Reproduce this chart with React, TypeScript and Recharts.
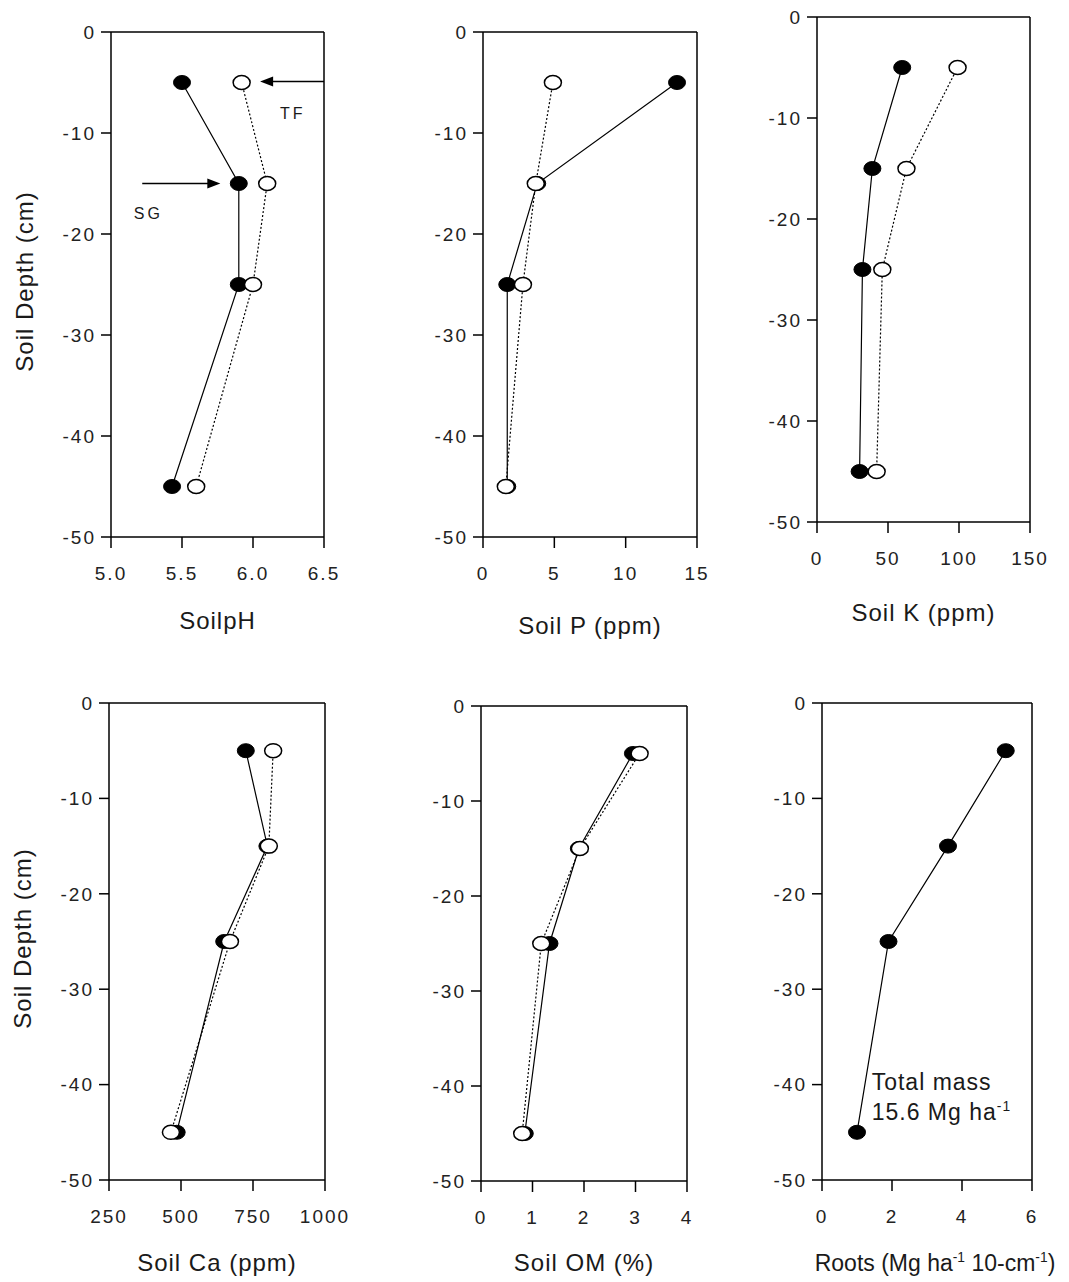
import {
  ScatterChart,
  Scatter,
  XAxis,
  YAxis,
  ReferenceLine,
  ReferenceDot,
} from "recharts";

// depths of the soil layers (cm, negative = below surface)
const DEPTHS = [-5, -15, -25, -45];
const DEPTH_TICKS = [0, -10, -20, -30, -40, -50];

// SG = filled circles, TF = open circles
const PH_SG = [5.5, 5.9, 5.9, 5.43];
const PH_TF = [5.92, 6.1, 6.0, 5.6];
const PH_TICKS = [5.0, 5.5, 6.0, 6.5];

const P_SG = [13.6, 3.8, 1.7, 1.7];
const P_TF = [4.9, 3.7, 2.8, 1.6];
const P_TICKS = [0, 5, 10, 15];

const K_SG = [60, 39, 32, 30];
const K_TF = [99, 63, 46, 42];
const K_TICKS = [0, 50, 100, 150];

const CA_SG = [725, 800, 650, 485];
const CA_TF = [820, 805, 670, 465];
const CA_TICKS = [250, 500, 750, 1000];

const OM_SG = [2.95, 1.9, 1.33, 0.85];
const OM_TF = [3.08, 1.92, 1.17, 0.8];
const OM_TICKS = [0, 1, 2, 3, 4];

const ROOTS = [5.25, 3.6, 1.9, 1.0];
const ROOT_TICKS = [0, 2, 4, 6];

const FONT = "'Liberation Sans', Arial, sans-serif";
const YW = 100; // y axis area width
const PAD = 20;
const RIGHT = 40;
const TICK_STYLE = { fontSize: 19, fill: "#222", fontFamily: FONT, letterSpacing: 2 };

const toPoints = (xs: number[]) => xs.map((x, i) => ({ x, y: DEPTHS[i] }));

const FilledDot = (p: any) => (
  <ellipse cx={p.cx} cy={p.cy} rx={8.5} ry={7} fill="#000" stroke="#000" />
);
const OpenDot = (p: any) => (
  <ellipse cx={p.cx} cy={p.cy} rx={8.5} ry={7} fill="#fff" stroke="#000" strokeWidth={1.5} />
);

type Part = { t: string; sup?: boolean };

// one line of text, with optional superscript pieces
const Line = ({ x, y, parts, size, spacing, anchor }: any) => (
  <text
    x={x}
    y={y}
    textAnchor={anchor || "start"}
    fontSize={size}
    fontFamily={FONT}
    fill="#1a1a1a"
    letterSpacing={spacing}
  >
    {parts.map((p: Part, i: number) =>
      p.sup ? (
        <tspan key={i} fontSize={size * 0.6} dy={-size * 0.4}>
          {p.t}
        </tspan>
      ) : (
        <tspan key={i} dy={i > 0 && parts[i - 1].sup ? size * 0.4 : 0}>
          {p.t}
        </tspan>
      )
    )}
  </text>
);

const XTitle =
  (parts: Part[], offset: number, size: number, spacing: number, shift: number) => (props: any) => {
    const vb = props.viewBox;
    return (
      <Line
        x={vb.x + vb.width / 2 + shift}
        y={vb.y + offset}
        parts={parts}
        size={size}
        spacing={spacing}
        anchor="middle"
      />
    );
  };

const YTitle = (props: any) => {
  const vb = props.viewBox;
  const x = vb.x + 22;
  const y = vb.y + vb.height / 2 - 3;
  return (
    <text
      x={x}
      y={y}
      transform={`rotate(-90 ${x} ${y})`}
      textAnchor="middle"
      fontSize={24}
      fontFamily={FONT}
      fill="#1a1a1a"
      letterSpacing={1}
    >
      Soil Depth (cm)
    </text>
  );
};

const ArrowHead = (dir: number) => (p: any) => (
  <polygon
    points={`${p.cx},${p.cy} ${p.cx + dir * 13},${p.cy - 5} ${p.cx + dir * 13},${p.cy + 5}`}
    fill="#000"
  />
);

const Note = (lines: Part[][], size: number, spacing: number) => (p: any) => (
  <g>
    {lines.map((line, li) => (
      <Line key={li} x={p.cx} y={p.cy + li * size * 1.3} parts={line} size={size} spacing={spacing} />
    ))}
  </g>
);

interface PanelProps {
  left: number;
  top: number;
  width: number;
  height: number;
  xDomain: [number, number];
  xTicks: number[];
  digits: number;
  sg: number[];
  tf?: number[];
  title: Part[];
  titleOffset: number;
  titleSize?: number;
  titleSpacing?: number;
  titleShift?: number;
  yTitle?: boolean;
  children?: any;
}

const Panel = ({
  left,
  top,
  width,
  height,
  xDomain,
  xTicks,
  digits,
  sg,
  tf,
  title,
  titleOffset,
  titleSize = 24,
  titleSpacing = 1,
  titleShift = 0,
  yTitle,
  children,
}: PanelProps) => (
  <div style={{ position: "absolute", left: left - YW, top: top - PAD }}>
    <ScatterChart
      width={width + YW + RIGHT}
      height={height + PAD + 110}
      margin={{ top: PAD, right: RIGHT, left: 0, bottom: 0 }}
    >
      <XAxis
        type="number"
        dataKey="x"
        domain={xDomain}
        ticks={xTicks}
        allowDataOverflow
        tickFormatter={(v: number) => v.toFixed(digits)}
        tickSize={11}
        tickMargin={19}
        height={110}
        stroke="#000"
        strokeWidth={1.5}
        tick={TICK_STYLE}
        label={{ content: XTitle(title, titleOffset, titleSize, titleSpacing, titleShift) }}
      />
      <YAxis
        type="number"
        dataKey="y"
        domain={[-50, 0]}
        ticks={DEPTH_TICKS}
        allowDataOverflow
        tickSize={10}
        tickMargin={5}
        width={YW}
        stroke="#000"
        strokeWidth={1.5}
        tick={TICK_STYLE}
        label={yTitle ? { content: YTitle } : undefined}
      />
      <ReferenceLine y={0} stroke="#000" strokeWidth={1.5} />
      <ReferenceLine x={xDomain[1]} stroke="#000" strokeWidth={1.5} />
      <Scatter
        data={toPoints(sg)}
        line={{ stroke: "#000", strokeWidth: 1.2 }}
        shape={FilledDot}
        isAnimationActive={false}
      />
      {tf && (
        <Scatter
          data={toPoints(tf)}
          line={{ stroke: "#000", strokeWidth: 1.2, strokeDasharray: "2 2" }}
          shape={OpenDot}
          isAnimationActive={false}
        />
      )}
      {children}
    </ScatterChart>
  </div>
);

export default function App() {
  return (
    <div
      style={{
        position: "relative",
        width: 1069,
        height: 1282,
        background: "#fff",
        fontFamily: FONT,
        overflow: "hidden",
      }}
    >
      <style>{`body{margin:0}`}</style>
      <Panel
        left={111}
        top={32}
        width={213}
        height={505}
        xDomain={[5, 6.5]}
        xTicks={PH_TICKS}
        digits={1}
        sg={PH_SG}
        tf={PH_TF}
        title={[{ t: "SoilpH" }]}
        titleOffset={92}
        yTitle
      >
        <ReferenceLine
          segment={[
            { x: 6.5, y: -4.9 },
            { x: 6.12, y: -4.9 },
          ]}
          stroke="#000"
          strokeWidth={1.3}
        />
        <ReferenceDot x={6.05} y={-4.9} r={0} shape={ArrowHead(1)} />
        <ReferenceLine
          segment={[
            { x: 5.22, y: -15 },
            { x: 5.7, y: -15 },
          ]}
          stroke="#000"
          strokeWidth={1.3}
        />
        <ReferenceDot x={5.77} y={-15} r={0} shape={ArrowHead(-1)} />
        <ReferenceDot x={6.19} y={-8.6} r={0} shape={Note([[{ t: "TF" }]], 16, 3)} />
        <ReferenceDot x={5.16} y={-18.5} r={0} shape={Note([[{ t: "SG" }]], 16, 3)} />
      </Panel>
      <Panel
        left={483}
        top={32}
        width={214}
        height={505}
        xDomain={[0, 15]}
        xTicks={P_TICKS}
        digits={0}
        sg={P_SG}
        tf={P_TF}
        title={[{ t: "Soil P (ppm)" }]}
        titleOffset={97}
      />
      <Panel
        left={817}
        top={17}
        width={213}
        height={505}
        xDomain={[0, 150]}
        xTicks={K_TICKS}
        digits={0}
        sg={K_SG}
        tf={K_TF}
        title={[{ t: "Soil K (ppm)" }]}
        titleOffset={99}
      />
      <Panel
        left={109}
        top={703}
        width={216}
        height={477}
        xDomain={[250, 1000]}
        xTicks={CA_TICKS}
        digits={0}
        sg={CA_SG}
        tf={CA_TF}
        title={[{ t: "Soil Ca (ppm)" }]}
        titleOffset={91}
        yTitle
      />
      <Panel
        left={481}
        top={706}
        width={206}
        height={475}
        xDomain={[0, 4]}
        xTicks={OM_TICKS}
        digits={0}
        sg={OM_SG}
        tf={OM_TF}
        title={[{ t: "Soil OM (%)" }]}
        titleOffset={90}
      />
      <Panel
        left={822}
        top={703}
        width={210}
        height={477}
        xDomain={[0, 6]}
        xTicks={ROOT_TICKS}
        digits={0}
        sg={ROOTS}
        title={[
          { t: "Roots (Mg ha" },
          { t: "-1", sup: true },
          { t: " 10-cm" },
          { t: "-1", sup: true },
          { t: ")" },
        ]}
        titleOffset={91}
        titleSize={23}
        titleSpacing={0}
        titleShift={8}
      >
        <ReferenceDot
          x={1.42}
          y={-40.6}
          r={0}
          shape={Note(
            [[{ t: "Total mass" }], [{ t: "15.6 Mg ha" }, { t: "-1", sup: true }]],
            23,
            1
          )}
        />
      </Panel>
    </div>
  );
}
